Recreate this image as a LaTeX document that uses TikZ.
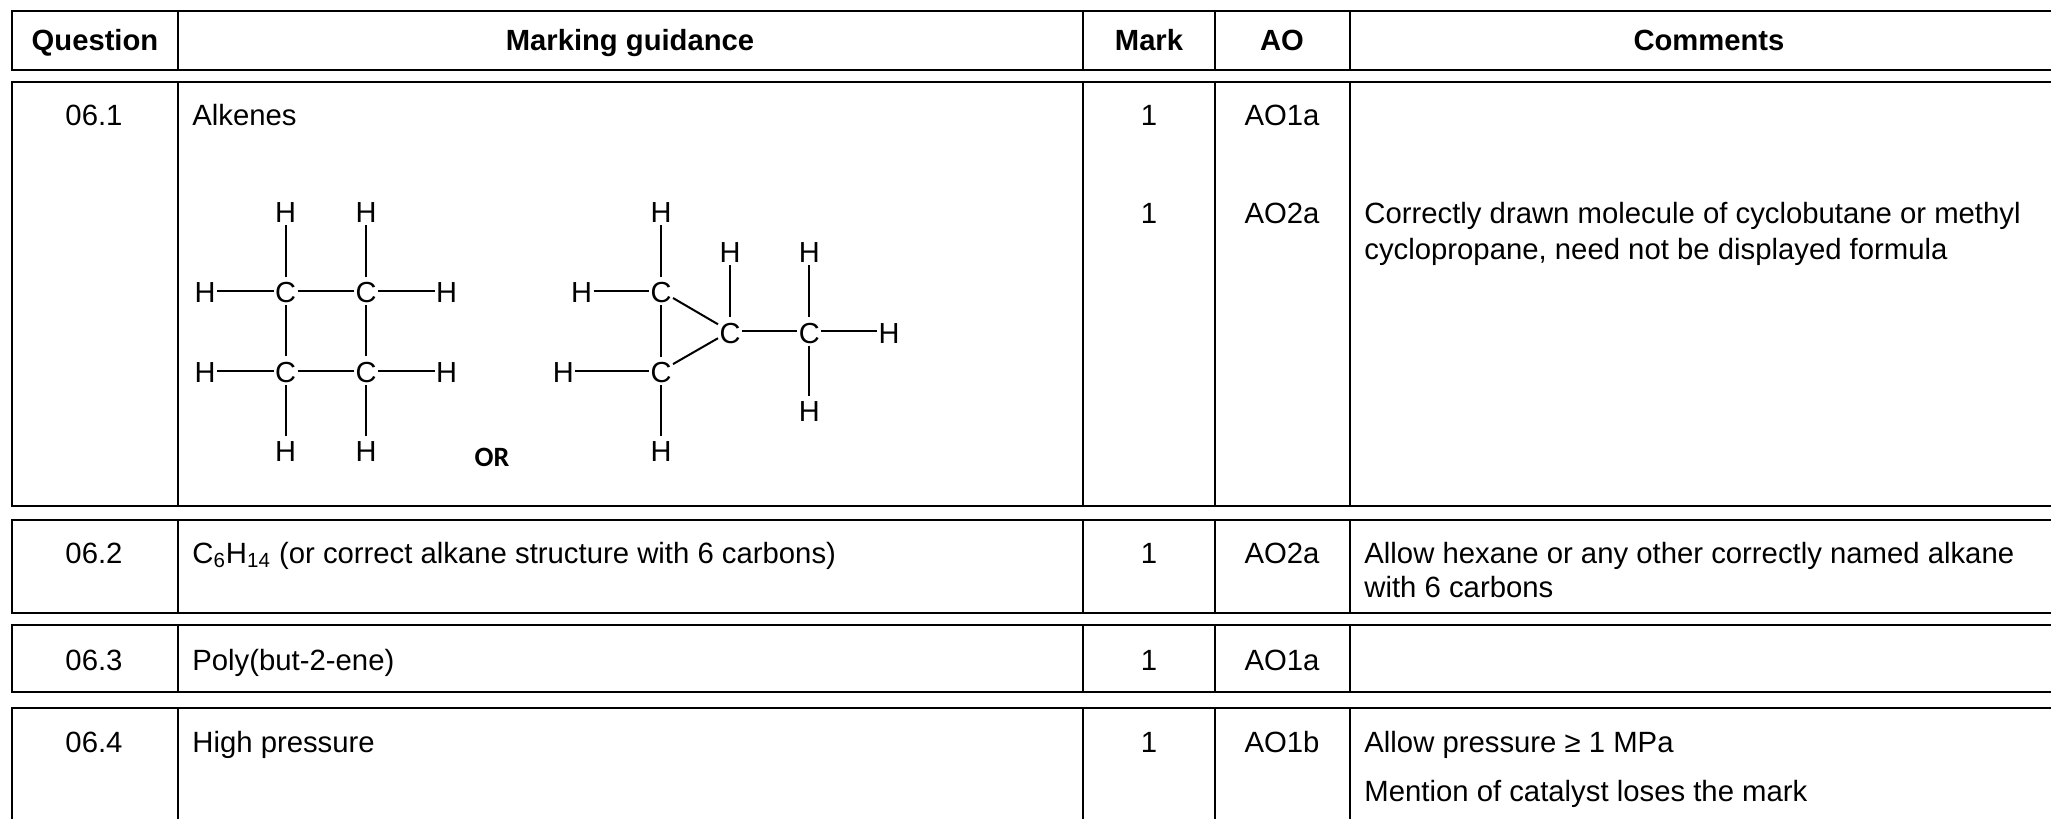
\documentclass[tikz,border=0pt]{standalone}
\usepackage{fontspec}
\setmainfont{Liberation Sans}
\newfontfamily\orfont{Carlito}
\tikzset{
  outer/.style={line width=1pt,black},
  inner/.style={line width=0.8pt,black},
  txt/.style={inner sep=0pt,anchor=base west,font=\fontsize{14.65}{17}\selectfont},
  ctr/.style={inner sep=0pt,anchor=base,font=\fontsize{14.65}{17}\selectfont},
  hdr/.style={inner sep=0pt,anchor=base,font=\fontsize{14.6}{17}\selectfont\bfseries},
  atom/.style={inner sep=0pt,minimum width=11.6pt,minimum height=14pt,text height=11.9pt,text depth=0pt,font=\fontsize{14.5}{17}\selectfont},
  bond/.style={line width=1pt,black},
}
\begin{document}
\begin{tikzpicture}[x=0.5pt,y=-0.5pt]
\useasboundingbox (0,0) rectangle (2051,819);
% table rows
\foreach \t/\b in {11.3/69.5,81.7/505.5,520/612.5,625/692}{
  \draw[inner] (178,\t) -- (178,\b);
  \draw[inner] (1083,\t) -- (1083,\b);
  \draw[inner] (1215,\t) -- (1215,\b);
  \draw[inner] (1350,\t) -- (1350,\b);
  \draw[outer] (2051,\t) -- (12,\t) -- (12,\b) -- (2051,\b);
}
\draw[inner] (178,708) -- (178,819);
\draw[inner] (1083,708) -- (1083,819);
\draw[inner] (1215,708) -- (1215,819);
\draw[inner] (1350,708) -- (1350,819);
\draw[outer] (2051,708) -- (12,708) -- (12,819);
% header
\node[hdr] (hq) at (95,50) {Question};
\node[hdr] (hm) at (630,50) {Marking guidance};
\node[hdr] (hk) at (1149,50) {Mark};
\node[hdr] (ha) at (1282,50) {AO};
\node[hdr] (hc) at (1709,50) {Comments};
% row 06.1
\node[ctr] (q1) at (94,125) {06.1};
\node[txt] (g1) at (192,125) {Alkenes};
\node[ctr] (m1a) at (1149,125) {1};
\node[ctr] (a1a) at (1282,125) {AO1a};
\node[ctr] (m1b) at (1149,223) {1};
\node[ctr] (a1b) at (1282,223) {AO2a};
\node[txt] (c1a) at (1364,223) {Correctly drawn molecule of cyclobutane or methyl};
\node[txt] (c1b) at (1364,259) {cyclopropane, need not be displayed formula};
% cyclobutane
\node[atom] (A1) at (285.7,291) {C};
\node[atom] (A2) at (366,291) {C};
\node[atom] (A3) at (285.7,370.5) {C};
\node[atom] (A4) at (366,370.5) {C};
\node[atom] (Ah1) at (285.7,211) {H};
\node[atom] (Ah2) at (366,211) {H};
\node[atom] (Ah3) at (205,291) {H};
\node[atom] (Ah4) at (446.7,291) {H};
\node[atom] (Ah5) at (205,370.5) {H};
\node[atom] (Ah6) at (446.7,370.5) {H};
\node[atom] (Ah7) at (285.7,450) {H};
\node[atom] (Ah8) at (366,450) {H};
\foreach \p/\q in {A1/A2,A1/A3,A2/A4,A3/A4,Ah1/A1,Ah2/A2,Ah3/A1,A2/Ah4,Ah5/A3,A4/Ah6,A3/Ah7,A4/Ah8}{
  \draw[bond] (\p) -- (\q);
}
\node[inner sep=0pt,font=\fontsize{14}{17}\selectfont\orfont\bfseries] (or) at (492,457) {OR};
% methylcyclopropane
\node[atom] (B1) at (661,291) {C};
\node[atom] (B2) at (661,371) {C};
\node[atom] (B3) at (730,331.3) {C};
\node[atom] (B4) at (809.3,331.3) {C};
\node[atom] (Bh1) at (661,211) {H};
\node[atom] (Bh2) at (581.7,291) {H};
\node[atom] (Bh3) at (563.3,371) {H};
\node[atom] (Bh4) at (661,450) {H};
\node[atom] (Bh5) at (730,250.8) {H};
\node[atom] (Bh6) at (809.3,250.8) {H};
\node[atom] (Bh7) at (889,331.3) {H};
\node[atom] (Bh8) at (809.3,410) {H};
\foreach \p/\q in {B1/B2,B1/B3,B2/B3,B3/B4,Bh1/B1,Bh2/B1,Bh3/B2,B2/Bh4,Bh5/B3,Bh6/B4,B4/Bh7,B4/Bh8}{
  \draw[bond] (\p) -- (\q);
}
% row 06.2
\node[ctr] (q2) at (94,563) {06.2};
\node[txt] (g2) at (192,563) {C\textsubscript{6}H\textsubscript{14} (or correct alkane structure with 6 carbons)};
\node[ctr] (m2) at (1149,563) {1};
\node[ctr] (a2) at (1282,563) {AO2a};
\node[txt] (c2a) at (1364,563) {Allow hexane or any other correctly named alkane};
\node[txt] (c2b) at (1364,597) {with 6 carbons};
% row 06.3
\node[ctr] (q3) at (94,670) {06.3};
\node[txt] (g3) at (192,670) {Poly(but-2-ene)};
\node[ctr] (m3) at (1149,670) {1};
\node[ctr] (a3) at (1282,670) {AO1a};
% row 06.4
\node[ctr] (q4) at (94,752) {06.4};
\node[txt] (g4) at (192,752) {High pressure};
\node[ctr] (m4) at (1149,752) {1};
\node[ctr] (a4) at (1282,752) {AO1b};
\node[txt] (c4a) at (1364,752) {Allow pressure ≥ 1 MPa};
\node[txt] (c4b) at (1364,801) {Mention of catalyst loses the mark};
\end{tikzpicture}
\end{document}
